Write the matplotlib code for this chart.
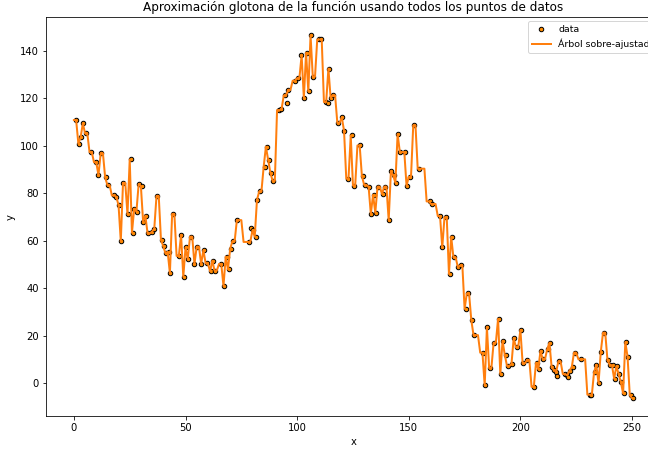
import numpy as np
import matplotlib
matplotlib.use("Agg")
import matplotlib.pyplot as plt

# Muestras (x, y) ordenadas por x
x_data = [
    0.9, 2.4, 3.1, 4.2, 5.4, 7.5, 9.9, 11.0, 12.2, 14.3, 15.2, 17.9, 18.8, 20.3,
    21.2, 22.1, 24.2, 25.4, 26.3, 26.9, 28.4, 29.0, 30.5, 31.1, 32.3, 33.2, 34.9,
    35.8, 37.3, 39.4, 40.3, 41.2, 42.4, 43.2, 44.5, 46.9, 48.1, 49.3, 50.2, 51.1,
    52.3, 53.8, 55.2, 56.8, 58.2, 59.5, 61.2, 62.1, 63.3, 66.0, 67.2, 68.4, 69.3,
    70.2, 71.4, 73.2, 78.6, 79.5, 80.3, 81.5, 82.1, 83.3, 85.4, 86.3, 87.2, 88.4,
    89.3, 92.0, 92.9, 94.7, 95.3, 95.9, 98.9, 100.4, 101.6, 103.0, 104.3, 105.2,
    106.3, 107.2, 109.6, 110.5, 112.9, 113.8, 114.1, 115.3, 116.2, 118.2, 120.2,
    121.1, 122.6, 124.4, 125.3, 128.0, 129.5, 130.4, 132.2, 133.1, 134.3, 135.2,
    136.3, 138.4, 139.3, 141.1, 142.0, 143.2, 144.1, 145.3, 146.2, 148.3, 149.2,
    150.4, 152.5, 154.6, 159.4, 160.3, 164.1, 165.0, 166.5, 168.3, 169.2, 170.4,
    172.2, 173.4, 175.5, 176.4, 178.2, 179.3, 183.1, 184.3, 185.2, 186.4, 188.2,
    190.3, 191.4, 192.3, 193.5, 194.4, 196.2, 197.1, 198.3, 200.4, 201.3, 202.8,
    206.1, 207.3, 208.2, 209.4, 210.3, 212.4, 213.3, 214.2, 215.1, 216.0, 216.5,
    217.1, 219.8, 220.7, 221.3, 222.2, 223.4, 224.3, 227.0, 231.2, 231.8, 233.3,
    233.9, 235.1, 236.0, 237.5, 239.2, 240.1, 241.3, 242.2, 243.1, 244.0, 244.9,
    246.4, 247.3, 248.2, 249.4, 250.3,
]
y_data = [
    110.9, 100.9, 103.6, 109.5, 105.3, 97.4, 93.1, 87.7, 96.9, 86.7, 83.5, 79.1,
    78.6, 74.9, 59.8, 84.4, 71.1, 94.3, 63.4, 73.5, 72.3, 83.9, 83.1, 68.0, 70.6,
    63.1, 63.8, 65.1, 78.9, 60.3, 57.8, 54.7, 55.3, 46.3, 71.3, 53.6, 62.5, 44.8,
    57.2, 52.2, 61.7, 50.2, 57.5, 50.2, 56.1, 50.5, 47.1, 51.6, 47.4, 50.2, 40.9,
    53.3, 47.9, 56.6, 59.8, 68.7, 59.5, 65.4, 64.5, 61.7, 77.2, 80.8, 91.2, 99.7,
    94.1, 88.7, 85.3, 115.1, 115.4, 121.3, 118.2, 123.6, 127.5, 128.6, 138.2,
    120.2, 139.3, 123.0, 146.6, 129.2, 144.9, 144.9, 118.5, 118.2, 132.6, 120.2,
    121.3, 109.7, 112.1, 106.4, 86.2, 104.4, 83.3, 100.2, 87.3, 83.6, 82.8, 71.3,
    79.4, 71.8, 82.8, 79.7, 82.8, 68.7, 89.3, 87.6, 84.5, 105.0, 97.4, 97.4, 83.1,
    87.0, 108.7, 90.4, 76.6, 75.5, 70.4, 57.2, 69.9, 46.0, 61.7, 53.0, 48.8, 49.6,
    31.3, 37.8, 26.6, 20.2, 12.8, -1.0, 23.5, 6.3, 17.0, 27.1, 3.8, 17.8, 11.9,
    7.2, 8.0, 19.0, 15.0, 22.4, 8.3, 9.7, -1.6, 8.6, 5.8, 13.6, 10.0, 14.2, 17.0,
    6.6, 5.5, 4.6, 3.0, 9.1, 3.8, 3.2, 2.4, 5.2, 6.6, 12.8, 10.0, -4.9, -4.9, 4.6,
    7.7, -0.1, 13.1, 21.2, 9.7, 7.7, 7.5, 1.8, 7.2, 3.8, 0.4, -4.4, 17.3, 11.1,
    -5.2, -6.3,
]

x = np.asarray(x_data)
y = np.asarray(y_data)

# Árbol sin límite de profundidad: cada hoja contiene una sola muestra,
# con cortes en los puntos medios entre valores consecutivos de x.
x_grid = np.arange(0.0, 251.0, 1.0)
cuts = (x[:-1] + x[1:]) / 2.0
y_tree = y[np.searchsorted(cuts, x_grid)]

fig = plt.figure(figsize=(9, 449 / 72), dpi=72)
ax = fig.add_axes([46 / 648, 33 / 449, 614.6 / 648, 398.6 / 449])

ax.scatter(x, y, s=20, c="darkorange", edgecolor="black", label="data")
ax.plot(x_grid, y_tree, color="C1", linewidth=2, label="Árbol sobre-ajustado")

ax.set_xlim(-12.5, 262.8)
ax.set_ylim(-13.9, 154.2)
ax.set_xlabel("x")
ax.set_ylabel("y")
ax.set_title("Aproximación glotona de la función usando todos los puntos de datos")
ax.legend(loc="upper left", bbox_to_anchor=(482 / 614.6, 0.991),
          borderaxespad=0, fontsize=9.4)

fig.savefig("out.png", dpi=72)
